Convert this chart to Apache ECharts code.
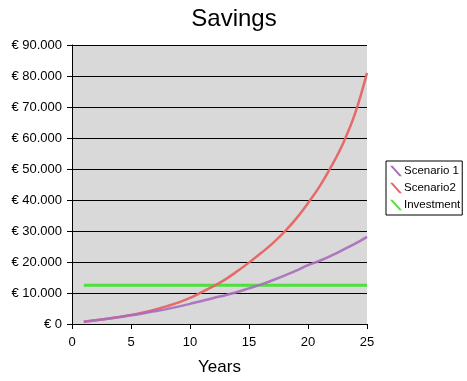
<!DOCTYPE html>
<html><head><meta charset="utf-8">
<script src="https://cdn.jsdelivr.net/npm/echarts@6/dist/echarts.min.js"></script>
<style>html,body{margin:0;padding:0;background:#fff}#c{width:467px;height:381px}</style>
</head><body><div id="c"></div>
<script>
var years = [1,2,3,4,5,6,7,8,9,10,11,12,13,14,15,16,17,18,19,20,21,22,23,24,25];
var scenario1 = [700,1200,1700,2200,2800,3400,4100,4800,5600,6500,7400,8400,9300,10300,11500,12700,14100,15600,17200,19000,20400,22100,24000,25900,28100];
var scenario2 = [700,1200,1700,2300,2900,3700,4600,5700,6900,8400,10300,12200,14400,17000,19800,22800,26000,29700,34000,39000,44500,51000,58500,68000,81000];
var investment = [12500,12500,12500,12500,12500,12500,12500,12500,12500,12500,12500,12500,12500,12500,12500,12500,12500,12500,12500,12500,12500,12500,12500,12500,12500];
var seriesNames = ['Scenario 1','Scenario2','Investment'];
var seriesColors = ['#a86cbc','#e66464','#4ee03c'];
var xTicks = [0,25,5];
var yTicks = [0,90000,10000];

function pairs(v){ return years.map(function(y,i){ return [y, v[i]]; }); }
var icon = 'path://M0,0 L3,0 L14,12 L11,12 Z';
var chart = echarts.init(document.getElementById('c'));
chart.setOption({
  animation:false,
  textStyle:{fontFamily:'Liberation Sans, Arial, sans-serif'},
  title:{text:'Savings', left:229, top:2, textAlign:'center',
    textStyle:{fontSize:24, fontWeight:'normal', color:'#000', fontFamily:'Liberation Sans, Arial, sans-serif'}},
  grid:{left:72, top:45, width:295, height:279, show:true, backgroundColor:'#d9d9d9', borderWidth:0,
    containLabel:false, outerBoundsMode:'none'},
  legend:{orient:'vertical', left:386, top:161,
    backgroundColor:'#fff', borderColor:'#000', borderWidth:1, padding:[4,2,4,4],
    itemWidth:12, itemHeight:12, itemGap:5, icon:icon,
    textStyle:{fontSize:11.5, color:'#000', padding:[0,0,0,-3]},
    data:seriesNames},
  xAxis:{type:'value', min:xTicks[0], max:xTicks[1], interval:xTicks[2],
    name:'Years', nameLocation:'middle', nameGap:35,
    nameTextStyle:{fontSize:17, color:'#000'},
    axisLine:{onZero:false, lineStyle:{color:'#000', width:1}},
    axisTick:{show:true, length:5, lineStyle:{color:'#000'}},
    axisLabel:{color:'#000', fontSize:13, margin:12},
    splitLine:{show:false}},
  yAxis:{type:'value', min:yTicks[0], max:yTicks[1], interval:yTicks[2],
    axisLine:{show:true, lineStyle:{color:'#000', width:1}},
    axisTick:{show:true, length:5, lineStyle:{color:'#000'}},
    axisLabel:{color:'#000', fontSize:13, margin:10, formatter:function(v){
      return '€ ' + String(v).replace(/\B(?=(\d{3})+(?!\d))/g, '.'); }},
    splitLine:{show:true, lineStyle:{color:'#000', width:1}}},
  series:[
    {name:seriesNames[2], type:'line', data:pairs(investment), showSymbol:false, symbol:'none',
      lineStyle:{color:seriesColors[2], width:3}, itemStyle:{color:seriesColors[2]}},
    {name:seriesNames[1], type:'line', data:pairs(scenario2), showSymbol:false, symbol:'none', smooth:0.4,
      lineStyle:{color:seriesColors[1], width:2.5, opacity:0.95}, itemStyle:{color:seriesColors[1]}},
    {name:seriesNames[0], type:'line', data:pairs(scenario1), showSymbol:false, symbol:'none', smooth:0.4,
      lineStyle:{color:seriesColors[0], width:2.5, opacity:0.9}, itemStyle:{color:seriesColors[0]}}
  ]
});
</script></body></html>
